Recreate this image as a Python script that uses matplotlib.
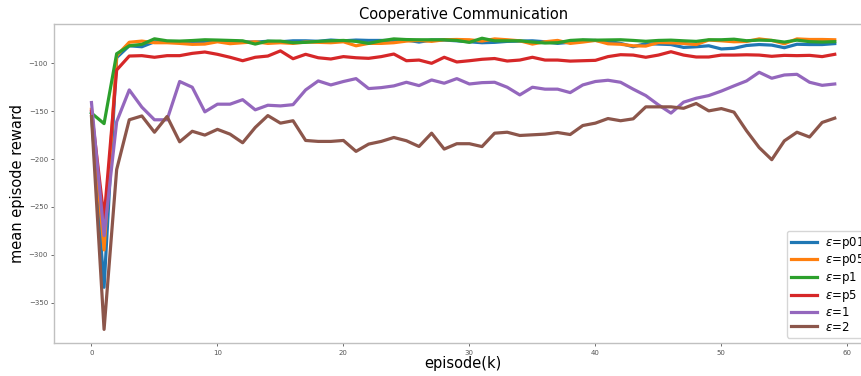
import matplotlib
matplotlib.use("Agg")
import matplotlib.pyplot as plt

# mean episode reward per 1k episodes, one list per epsilon setting
episodes = list(range(60))

reward_p01 = [-152, -334, -94, -81.7, -82.7, -77.5, -77.5, -77.5, -78, -77,
              -76.5, -76.8, -77.5, -77.8, -77, -77.5, -76.5, -76.5, -77, -75.7,
              -76.5, -75.7, -76.1, -76.1, -76.1, -75.7, -77.8, -75.7, -75.7, -76.5,
              -77.5, -78.5, -78.1, -77.1, -76.8, -76.5, -77.5, -79.2, -78, -76.1,
              -76.1, -77, -79.2, -82.7, -79.5, -79.9, -80.4, -83.4, -82.7, -81.7,
              -85, -84.3, -81.4, -80.4, -81, -83.7, -80.1, -80.4, -80.4, -79.4]
reward_p05 = [-148, -295, -92, -78, -76.8, -78.5, -78.5, -79.2, -80.2, -79.9,
              -77.5, -79.5, -78.5, -77.5, -79.2, -78.5, -79.2, -77.8, -78.1, -78.5,
              -77.5, -81.7, -79.2, -79.2, -78.5, -76.8, -76.1, -77.1, -75.4, -75.1,
              -75.4, -76.8, -74.5, -75.4, -76.5, -79.9, -77.5, -76.1, -79.2, -77.8,
              -76.1, -79.6, -80.1, -81.7, -82, -78.3, -78.6, -79.2, -80.4, -75.7,
              -76.5, -77.5, -77.2, -74.5, -76.1, -79.6, -74.5, -75.1, -75.1, -75.4]
reward_p1 = [-152, -163, -90, -81.7, -80.2, -74.4, -76.5, -76.8, -76.2, -75.4,
             -75.7, -76.1, -76.5, -79.9, -76.8, -76.8, -78.5, -78.1, -77.1, -76.5,
             -76.1, -77.1, -79.2, -76.5, -74.5, -75.2, -75.4, -75.4, -75.4, -76.1,
             -78.1, -73.8, -76.5, -76.5, -76.5, -77.8, -78.8, -78.5, -76.1, -75.4,
             -75.8, -75.6, -75.4, -76.1, -77, -76.1, -75.8, -76.5, -77.1, -75.4,
             -75.4, -74.8, -76.4, -75.8, -76.1, -77.8, -75.8, -77.4, -77.8, -77.4]
reward_p5 = [-150, -262, -107, -92.4, -92, -93.7, -92, -92, -89.6, -88.2,
             -90.6, -93.7, -97.3, -93.7, -92.4, -87, -95.2, -90.6, -94.2, -95.5,
             -93, -94.2, -94.8, -93, -90.3, -97.3, -96.6, -100, -93.7, -98.6,
             -97.3, -95.8, -95, -97.6, -96.6, -93.7, -96.6, -96.6, -97.7, -97.3,
             -96.9, -93, -91, -91.4, -93.7, -91.4, -87.9, -91.4, -93.4, -93.4,
             -91.4, -91.4, -91.1, -91.4, -92.7, -91.7, -92, -91.7, -93, -90.6]
reward_1 = [-141, -280, -161, -127.8, -145.8, -159, -159, -119, -125, -150.7,
            -142.7, -142.7, -138, -148.6, -143.8, -144.5, -143.2, -127.8, -118.4, -122.6,
            -119, -116, -126.4, -125.4, -123.6, -119.8, -123.3, -117.4, -120.8, -116,
            -121.6, -120.2, -119.8, -125, -133, -125, -127, -127, -130.6, -122.6,
            -119, -117.7, -119.8, -127, -133.7, -143.4, -152, -140.6, -136.5, -133.7,
            -129, -123.6, -118.4, -109.4, -115.6, -112.2, -111.5, -119.8, -123, -121.6]
reward_2 = [-155.6, -378, -211, -159, -155, -172, -155.6, -182, -171, -175,
            -169, -174, -183, -167, -154.6, -162.5, -160, -180.6, -181.6, -181.6,
            -180.6, -192, -184.4, -181.6, -177.5, -180.9, -186.9, -173, -189.6, -184,
            -184, -187, -173, -172, -175.4, -174.7, -174, -172.3, -174.4, -165,
            -162.5, -157.7, -160, -158, -145.5, -145.5, -145.5, -147, -142, -149.7,
            -147.3, -151, -170.5, -188, -200.7, -181, -172, -177, -161.8, -157.3]

series = [reward_p01, reward_p05, reward_p1, reward_p5, reward_1, reward_2]
labels = [r"$\varepsilon$=p01", r"$\varepsilon$=p05", r"$\varepsilon$=p1",
          r"$\varepsilon$=p5", r"$\varepsilon$=1", r"$\varepsilon$=2"]
colors = ["#1f77b4", "#ff7f0e", "#2ca02c", "#d62728", "#9467bd", "#8c564b"]

fig = plt.figure(figsize=(8.62, 3.76), dpi=100)
# axes run slightly past the right edge of the canvas
ax = fig.add_axes([0.063, 0.087, 0.9485, 0.849])

for vals, lab, col in zip(series, labels, colors):
    ax.plot(episodes, vals, color=col, lw=2.3, label=lab)

ax.set_xlim(-2.95, 61.95)
ax.set_ylim(-392.5, -59)
ax.set_yticks([-350, -300, -250, -200, -150, -100])
ax.set_xticks([0, 10, 20, 30, 40, 50, 60])

for side in ["left", "bottom", "top", "right"]:
    ax.spines[side].set_color("#c0c0c0")
    ax.spines[side].set_linewidth(1.0)
ax.tick_params(labelsize=5, colors="#555555", length=2.5, width=0.6, pad=2)
for t in ax.get_xticklines() + ax.get_yticklines():
    t.set_color("#999999")

ax.set_title("Cooperative Communication", fontsize=10.5, pad=4)
ax.set_xlabel("episode(k)", fontsize=10.5, labelpad=0)
ax.set_ylabel("mean episode reward", fontsize=10.5)
ax.yaxis.set_label_coords(-0.036, 0.5)

ax.legend(loc="lower left", bbox_to_anchor=(786.7 / 862, 38.3 / 376),
          bbox_transform=fig.transFigure, borderaxespad=0,
          fontsize=8.5, handlelength=2.2, labelspacing=0.15,
          handletextpad=0.7, borderpad=0.35)

fig.savefig("out.png", dpi=100)
